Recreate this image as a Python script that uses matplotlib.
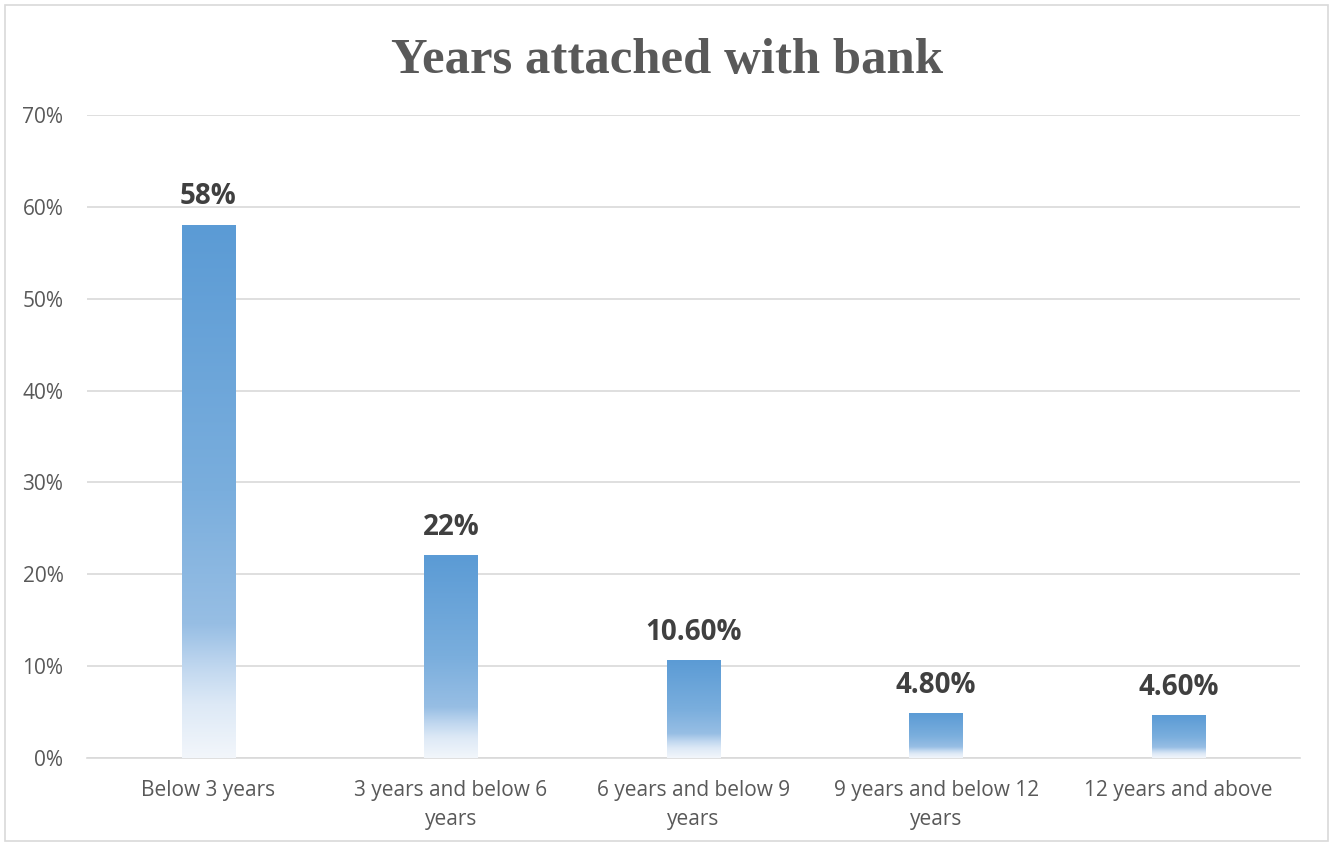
import numpy as np
import matplotlib
matplotlib.use("Agg")
import matplotlib.pyplot as plt
from matplotlib.colors import LinearSegmentedColormap
from matplotlib.patches import Rectangle

categories = ["Below 3 years", "3 years and below 6\nyears", "6 years and below 9\nyears",
              "9 years and below 12\nyears", "12 years and above"]
values = [58.0, 22.0, 10.6, 4.8, 4.6]
labels = ["58%", "22%", "10.60%", "4.80%", "4.60%"]
yticks = [0, 10, 20, 30, 40, 50, 60, 70]
ytick_labels = ["0%", "10%", "20%", "30%", "40%", "50%", "60%", "70%"]

fig = plt.figure(figsize=(13.35, 8.43), dpi=100)
fig.patch.set_facecolor("white")
# outer chart border
fig.patches.append(Rectangle((5/1335, 2/843), 1323/1335, 836/843, transform=fig.transFigure,
                             fill=False, edgecolor="#D9D9D9", linewidth=1.2))

ax = fig.add_axes([87/1335, (843-758)/843, (1300-87)/1335, (758-115)/843])
x = np.arange(len(categories))
bars = ax.bar(x, values, width=0.22, color="none", edgecolor="none", zorder=3)

cmap = LinearSegmentedColormap.from_list("grad", [
    (0.0, "#F2F6FB"), (0.10, "#DDE9F6"), (0.17, "#C0D7EF"), (0.25, "#97BEE4"),
    (0.5, "#7AAEDD"), (1.0, "#5B9BD5")])
grad = np.linspace(0, 1, 256).reshape(-1, 1)
for b in bars:
    bx, bw, bh = b.get_x(), b.get_width(), b.get_height()
    ax.imshow(grad, extent=[bx, bx + bw, 0, bh], origin="lower", aspect="auto",
              cmap=cmap, zorder=3, interpolation="bilinear")

for xi, v, lab in zip(x, values, labels):
    ax.text(xi, v + 1.5, lab, ha="center", va="bottom", fontsize=20, fontweight="bold",
            color="#404040", family="Open Sans")

ax.set_xlim(-0.5, len(categories) - 0.5)
ax.set_ylim(0, 70)
ax.set_yticks(yticks)
ax.set_yticklabels(ytick_labels)
ax.set_xticks(x)
ax.set_xticklabels(categories, linespacing=1.5)
ax.tick_params(axis="both", length=0, labelcolor="#595959", labelsize=15)
ax.tick_params(axis="y", pad=17)
ax.tick_params(axis="x", pad=16)
for lab in ax.get_xticklabels() + ax.get_yticklabels():
    lab.set_family("Open Sans")
ax.grid(axis="y", color="#D9D9D9", linewidth=1.2, zorder=0)
ax.set_axisbelow(True)
for s in ["top", "right", "left"]:
    ax.spines[s].set_visible(False)
ax.spines["bottom"].set_color("#D9D9D9")
ax.spines["bottom"].set_linewidth(1.2)

fig.text(0.5, (843-61)/843, "Years attached with bank", ha="center", va="center",
         fontsize=36.5, fontweight="bold", color="#595959", family="Liberation Serif")

fig.savefig("out.png", dpi=100, facecolor="white")
